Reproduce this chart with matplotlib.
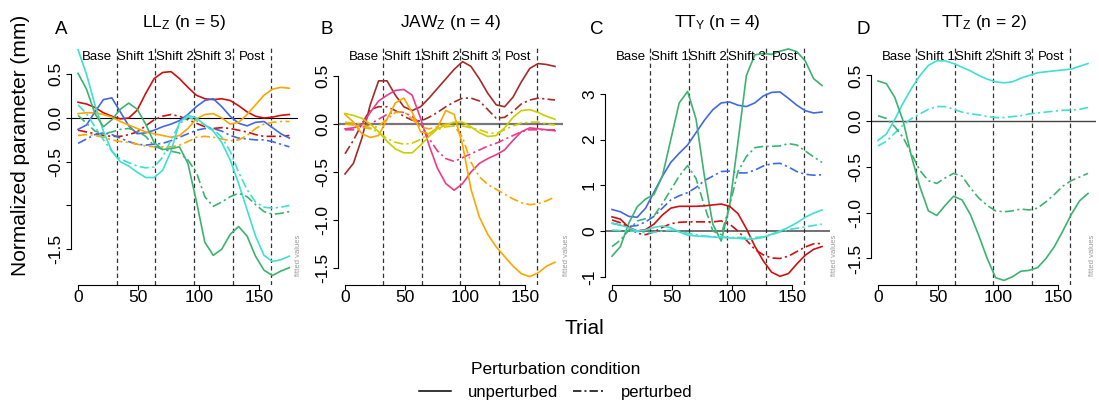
import numpy as np
import matplotlib
matplotlib.use("Agg")
import matplotlib.pyplot as plt
from matplotlib.lines import Line2D

plt.rcParams['font.family'] = ['Liberation Sans', 'DejaVu Sans']
plt.rcParams['mathtext.fontset'] = 'custom'
plt.rcParams['mathtext.rm'] = 'Liberation Sans'
plt.rcParams['mathtext.it'] = 'Liberation Sans:italic'
TICK_FONT = ['Liberation Sans Narrow', 'Liberation Sans', 'DejaVu Sans']

# trial grid the curves were read at
trial = [0, 7, 14, 21, 28, 35, 42, 49, 56, 63, 70, 77, 84, 91, 98, 105,
         112, 119, 126, 133, 140, 147, 154, 161, 168, 175]
phase_breaks = [32, 64, 96, 128, 160]
phase_names = ["Base", "Shift 1", "Shift 2", "Shift 3", "Post"]
phase_mid = [16, 48, 80, 112, 144]

# LL_Z
ll_red_u = [0.18, 0.16, 0.12, 0.06, 0.02, -0.01, 0.0, 0.09, 0.28, 0.45, 0.52, 0.53, 0.45, 0.35, 0.26, 0.22, 0.21, 0.22, 0.2, 0.14, 0.07, 0.02, 0.0, 0.01, 0.03, 0.04]
ll_red_p = [-0.14, -0.16, -0.18, -0.2, -0.21, -0.21, -0.19, -0.16, -0.09, -0.02, 0.02, 0.04, 0.02, -0.02, -0.06, -0.1, -0.12, -0.11, -0.12, -0.14, -0.16, -0.19, -0.21, -0.21, -0.21, -0.2]
ll_blue_u = [-0.13, -0.08, 0.07, 0.21, 0.23, 0.07, -0.09, -0.18, -0.17, -0.14, -0.1, -0.07, -0.03, 0.04, 0.13, 0.2, 0.22, 0.13, 0.02, -0.06, -0.09, -0.05, -0.04, -0.11, -0.18, -0.23]
ll_blue_p = [-0.29, -0.24, -0.19, -0.17, -0.19, -0.23, -0.27, -0.3, -0.31, -0.3, -0.29, -0.26, -0.22, -0.18, -0.14, -0.12, -0.12, -0.15, -0.2, -0.23, -0.24, -0.25, -0.25, -0.27, -0.3, -0.33]
ll_orange_u = [0.05, 0.06, 0.06, 0.04, 0.01, -0.04, -0.08, -0.12, -0.16, -0.18, -0.2, -0.22, -0.2, -0.12, -0.01, 0.04, 0.05, 0.0, -0.07, -0.05, 0.04, 0.15, 0.26, 0.33, 0.35, 0.34]
ll_orange_p = [-0.2, -0.19, -0.2, -0.22, -0.25, -0.27, -0.28, -0.3, -0.32, -0.33, -0.33, -0.33, -0.31, -0.27, -0.22, -0.21, -0.22, -0.24, -0.26, -0.25, -0.2, -0.12, -0.07, -0.05, -0.04, -0.04]
ll_cyan_u = [0.78, 0.5, 0.15, -0.15, -0.38, -0.5, -0.55, -0.62, -0.68, -0.68, -0.6, -0.38, -0.05, 0.03, 0.0, -0.08, -0.15, -0.28, -0.48, -0.75, -1.05, -1.35, -1.57, -1.64, -1.62, -1.58]
ll_cyan_p = [0.15, 0.05, -0.1, -0.25, -0.38, -0.47, -0.51, -0.55, -0.57, -0.56, -0.45, -0.25, -0.07, 0.01, -0.03, -0.08, -0.13, -0.22, -0.38, -0.62, -0.82, -0.96, -1.02, -1.03, -1.02, -1.0]
ll_green_u = [0.51, 0.33, 0.05, -0.1, -0.02, 0.1, 0.17, 0.1, -0.07, -0.28, -0.36, -0.35, -0.33, -0.52, -0.95, -1.42, -1.57, -1.5, -1.33, -1.24, -1.35, -1.58, -1.74, -1.8, -1.75, -1.71]
ll_green_p = [0.03, -0.06, -0.15, -0.18, -0.16, -0.13, -0.12, -0.15, -0.21, -0.32, -0.36, -0.38, -0.4, -0.48, -0.62, -0.9, -1.01, -0.96, -0.9, -0.86, -0.9, -0.99, -1.07, -1.1, -1.09, -1.07]

# JAW_Z
jaw_brown_u = [-0.52, -0.41, -0.15, 0.2, 0.45, 0.45, 0.3, 0.18, 0.14, 0.18, 0.27, 0.37, 0.47, 0.57, 0.65, 0.6, 0.47, 0.32, 0.2, 0.18, 0.28, 0.44, 0.58, 0.63, 0.62, 0.6]
jaw_brown_p = [-0.31, -0.17, 0.0, 0.15, 0.18, 0.18, 0.14, 0.08, 0.04, 0.03, 0.07, 0.12, 0.18, 0.23, 0.27, 0.27, 0.24, 0.15, 0.06, 0.07, 0.13, 0.21, 0.25, 0.27, 0.26, 0.25]
jaw_pink_u = [-0.05, -0.04, -0.01, 0.12, 0.24, 0.3, 0.35, 0.36, 0.3, 0.06, -0.22, -0.46, -0.62, -0.69, -0.62, -0.5, -0.41, -0.36, -0.32, -0.27, -0.17, -0.08, -0.04, -0.05, -0.06, -0.07]
jaw_pink_p = [-0.06, -0.06, -0.04, 0.0, 0.05, 0.1, 0.13, 0.12, 0.08, 0.0, -0.15, -0.28, -0.36, -0.39, -0.35, -0.31, -0.27, -0.23, -0.2, -0.16, -0.12, -0.08, -0.06, -0.06, -0.06, -0.06]
jaw_orange_u = [0.1, 0.02, -0.1, -0.14, -0.12, 0.05, 0.22, 0.27, 0.12, -0.08, -0.1, -0.04, 0.14, 0.1, -0.22, -0.68, -0.97, -1.15, -1.28, -1.38, -1.48, -1.56, -1.59, -1.55, -1.48, -1.44]
jaw_orange_p = [0.0, -0.01, -0.03, -0.05, -0.02, 0.05, 0.12, 0.13, 0.05, -0.03, -0.05, -0.03, 0.0, -0.02, -0.14, -0.4, -0.55, -0.63, -0.68, -0.73, -0.78, -0.82, -0.84, -0.83, -0.8, -0.76]
jaw_yellow_u = [0.11, 0.09, 0.06, 0.0, -0.08, -0.18, -0.26, -0.3, -0.3, -0.22, -0.13, -0.05, -0.01, 0.02, 0.02, -0.03, -0.09, -0.13, -0.12, -0.04, 0.07, 0.14, 0.15, 0.12, 0.08, 0.05]
jaw_yellow_p = [0.02, 0.01, 0.0, -0.04, -0.09, -0.15, -0.19, -0.21, -0.2, -0.16, -0.1, -0.06, -0.03, -0.02, -0.02, -0.04, -0.06, -0.09, -0.1, -0.06, -0.02, 0.01, 0.02, 0.02, 0.0, -0.01]

# TT_Y
tty_blue_u = [0.47, 0.42, 0.32, 0.3, 0.5, 0.85, 1.2, 1.5, 1.7, 1.88, 2.15, 2.42, 2.65, 2.8, 2.82, 2.75, 2.72, 2.8, 2.95, 3.03, 3.04, 2.9, 2.75, 2.63, 2.58, 2.6]
tty_blue_p = [0.17, 0.13, 0.1, 0.12, 0.2, 0.32, 0.5, 0.68, 0.77, 0.84, 0.95, 1.1, 1.2, 1.3, 1.31, 1.27, 1.27, 1.33, 1.42, 1.47, 1.48, 1.4, 1.3, 1.24, 1.22, 1.23]
tty_green_u = [-0.55, -0.34, 0.17, 0.53, 0.7, 0.8, 1.2, 2.0, 2.8, 3.05, 2.45, 1.2, 0.15, -0.22, 0.55, 1.95, 3.4, 3.85, 3.88, 3.86, 3.93, 3.98, 3.92, 3.72, 3.33, 3.18]
tty_green_p = [-0.34, -0.2, 0.02, 0.22, 0.27, 0.33, 0.6, 0.9, 1.2, 1.43, 1.15, 0.55, 0.0, -0.08, 0.55, 1.3, 1.63, 1.82, 1.85, 1.85, 1.86, 1.91, 1.88, 1.75, 1.62, 1.5]
tty_red_u = [0.31, 0.26, 0.08, 0.0, 0.03, 0.15, 0.35, 0.5, 0.54, 0.54, 0.54, 0.55, 0.57, 0.59, 0.54, 0.38, 0.05, -0.33, -0.65, -0.9, -0.99, -0.93, -0.72, -0.53, -0.4, -0.34]
tty_red_p = [0.24, 0.18, 0.08, -0.05, -0.08, -0.02, 0.08, 0.16, 0.19, 0.2, 0.2, 0.2, 0.2, 0.22, 0.15, 0.0, -0.2, -0.4, -0.52, -0.59, -0.6, -0.55, -0.45, -0.35, -0.28, -0.27]
tty_cyan_u = [0.17, 0.13, 0.07, 0.0, 0.02, 0.08, 0.11, 0.07, -0.02, -0.09, -0.11, -0.12, -0.13, -0.14, -0.15, -0.16, -0.18, -0.17, -0.14, -0.07, 0.0, 0.08, 0.18, 0.3, 0.39, 0.46]
tty_cyan_p = [0.02, 0.01, 0.0, -0.01, -0.04, -0.03, 0.0, 0.02, -0.01, -0.05, -0.08, -0.11, -0.12, -0.13, -0.14, -0.14, -0.14, -0.14, -0.13, -0.08, -0.02, 0.03, 0.06, 0.09, 0.12, 0.15]

# TT_Z
ttz_cyan_u = [-0.21, -0.14, 0.02, 0.2, 0.36, 0.5, 0.61, 0.66, 0.66, 0.63, 0.59, 0.55, 0.5, 0.46, 0.43, 0.42, 0.43, 0.47, 0.5, 0.53, 0.54, 0.55, 0.56, 0.57, 0.6, 0.63]
ttz_cyan_p = [-0.27, -0.22, -0.13, -0.04, 0.03, 0.08, 0.13, 0.16, 0.16, 0.13, 0.1, 0.08, 0.07, 0.05, 0.04, 0.04, 0.05, 0.06, 0.08, 0.09, 0.1, 0.11, 0.12, 0.12, 0.13, 0.15]
ttz_green_u = [0.44, 0.41, 0.26, 0.0, -0.39, -0.72, -0.98, -1.03, -0.92, -0.82, -0.86, -1.02, -1.25, -1.5, -1.71, -1.74, -1.7, -1.64, -1.63, -1.6, -1.5, -1.37, -1.2, -1.02, -0.87, -0.79]
ttz_green_p = [0.06, 0.03, -0.06, -0.18, -0.36, -0.54, -0.65, -0.68, -0.62, -0.57, -0.6, -0.73, -0.84, -0.92, -0.98, -0.99, -0.98, -0.96, -0.97, -0.95, -0.88, -0.8, -0.71, -0.65, -0.61, -0.57]

RED, BLUE, ORANGE = '#D01010', '#4169E1', '#FFA500'
CYAN, GREEN = '#40E0D0', '#3CB371'
BROWN, PINK, YELLOW = '#A52A2A', '#EE3A8C', '#CDCD00'

panels = [
    dict(title=r"LL$_\mathrm{Z}$ (n = 5)", letter="A",
         curves=[(RED, ll_red_u, ll_red_p), (BLUE, ll_blue_u, ll_blue_p),
                 (ORANGE, ll_orange_u, ll_orange_p), (CYAN, ll_cyan_u, ll_cyan_p),
                 (GREEN, ll_green_u, ll_green_p)],
         ylim=(-1.909, 0.8), yticks=[-1.5, -1.0, -0.5, 0.0, 0.5],
         ylabels=["-1.5", "", "-0.5", "0.0", "0.5"], zero=('black', 0.8)),
    dict(title=r"JAW$_\mathrm{Z}$ (n = 4)", letter="B",
         curves=[(BROWN, jaw_brown_u, jaw_brown_p), (PINK, jaw_pink_u, jaw_pink_p),
                 (ORANGE, jaw_orange_u, jaw_orange_p), (YELLOW, jaw_yellow_u, jaw_yellow_p)],
         ylim=(-1.677, 0.792), yticks=[-1.5, -1.0, -0.5, 0.0, 0.5],
         ylabels=["-1.5", "-1.0", "-0.5", "0.0", "0.5"], zero=('#777777', 1.6)),
    dict(title=r"TT$_\mathrm{Y}$ (n = 4)", letter="C",
         curves=[(BLUE, tty_blue_u, tty_blue_p), (GREEN, tty_green_u, tty_green_p),
                 (RED, tty_red_u, tty_red_p), (CYAN, tty_cyan_u, tty_cyan_p)],
         ylim=(-1.18, 4.0), yticks=[-1, 0, 1, 2, 3],
         ylabels=["-1", "0", "1", "2", "3"], zero=('#666666', 1.3)),
    dict(title=r"TT$_\mathrm{Z}$ (n = 2)", letter="D",
         curves=[(CYAN, ttz_cyan_u, ttz_cyan_p), (GREEN, ttz_green_u, ttz_green_p)],
         ylim=(-1.79, 0.80), yticks=[-1.5, -1.0, -0.5, 0.0, 0.5],
         ylabels=["-1.5", "-1.0", "-0.5", "0.0", "0.5"], zero=('#444444', 1.0)),
]

W, H = 1099, 400
fig = plt.figure(figsize=(W / 100, H / 100), dpi=100)

# axes boxes in pixels: left, width ; all share top=48, bottom=285
lefts = [70.8, 337.8, 604.8, 870.8]
widths = [227.0, 225.6, 225.6, 225.6]
letter_x = [61, 327, 597, 863]
fitted_x = [299, 567, 834, 1093]
top_px, bot_px = 48, 285
dashdot = (5.5, 2, 1.3, 2)

for p, left, width, lx, fx in zip(panels, lefts, widths, letter_x, fitted_x):
    ax = fig.add_axes([left / W, 1 - bot_px / H, width / W, (bot_px - top_px) / H])
    ax.set_xlim(-6, 182)
    ax.set_ylim(*p['ylim'])
    ax.axhline(0, color=p['zero'][0], lw=p['zero'][1], zorder=1)
    for b in phase_breaks:
        ax.axvline(b, color='#333333', lw=0.9, dashes=(3.5, 2.5), zorder=1)
    for color, unp, per in p['curves']:
        ax.plot(trial, unp, color=color, lw=1.2, zorder=3)
        ax.plot(trial, per, color=color, lw=1.2, dashes=dashdot, zorder=3)
    for name, xm in zip(phase_names, phase_mid):
        ax.text(xm, (285 - 57) / (bot_px - top_px), name, transform=ax.get_xaxis_transform(),
                ha='center', va='center', fontsize=9.5, zorder=5)
    ax.spines['top'].set_visible(False)
    ax.spines['right'].set_visible(False)
    for s in ('left', 'bottom'):
        ax.spines[s].set_linewidth(0.8)
    ax.spines['left'].set_bounds(min(p['yticks']), max(p['yticks']))
    ax.spines['bottom'].set_bounds(0, 150)
    ax.set_xticks([0, 50, 100, 150])
    ax.set_xticklabels(["0", "50", "100", "150"], fontfamily=TICK_FONT)
    ax.set_yticks(p['yticks'])
    ax.set_yticklabels(p['ylabels'], rotation=90, va='center', fontfamily=TICK_FONT)
    ax.tick_params(axis='both', length=3.6, width=0.8, labelsize=12.5)
    ax.tick_params(axis='x', pad=0.3)
    ax.tick_params(axis='y', pad=2.0)
    ax.text(0.5, (285 - 22) / (bot_px - top_px), p['title'], transform=ax.transAxes,
            ha='center', va='center', fontsize=12.5)
    fig.text(lx / W, 1 - 29 / H, p['letter'], ha='center', va='center', fontsize=13.5)
    fig.text(fx / W, 1 - 255 / H, "fitted values", rotation=90,
             ha='center', va='center', fontsize=5.5, color='#999999')

fig.text(21 / W, 1 - 145 / H, "Normalized parameter (mm)", rotation=90,
         ha='center', va='center', fontsize=15)
fig.text(584 / W, 1 - 328 / H, "Trial", ha='center', va='center', fontsize=15)

handles = [Line2D([], [], color='black', lw=1.1),
           Line2D([], [], color='black', lw=1.1, dashes=dashdot)]
fig.legend(handles, ["unperturbed", "perturbed"], loc='center',
           bbox_to_anchor=(556 / W, 1 - 381 / H), ncol=2, frameon=False,
           title="Perturbation condition", fontsize=12, title_fontsize=12.5,
           handlelength=1.9, handletextpad=1.0, columnspacing=0.9)

fig.savefig("out.png", dpi=100)
